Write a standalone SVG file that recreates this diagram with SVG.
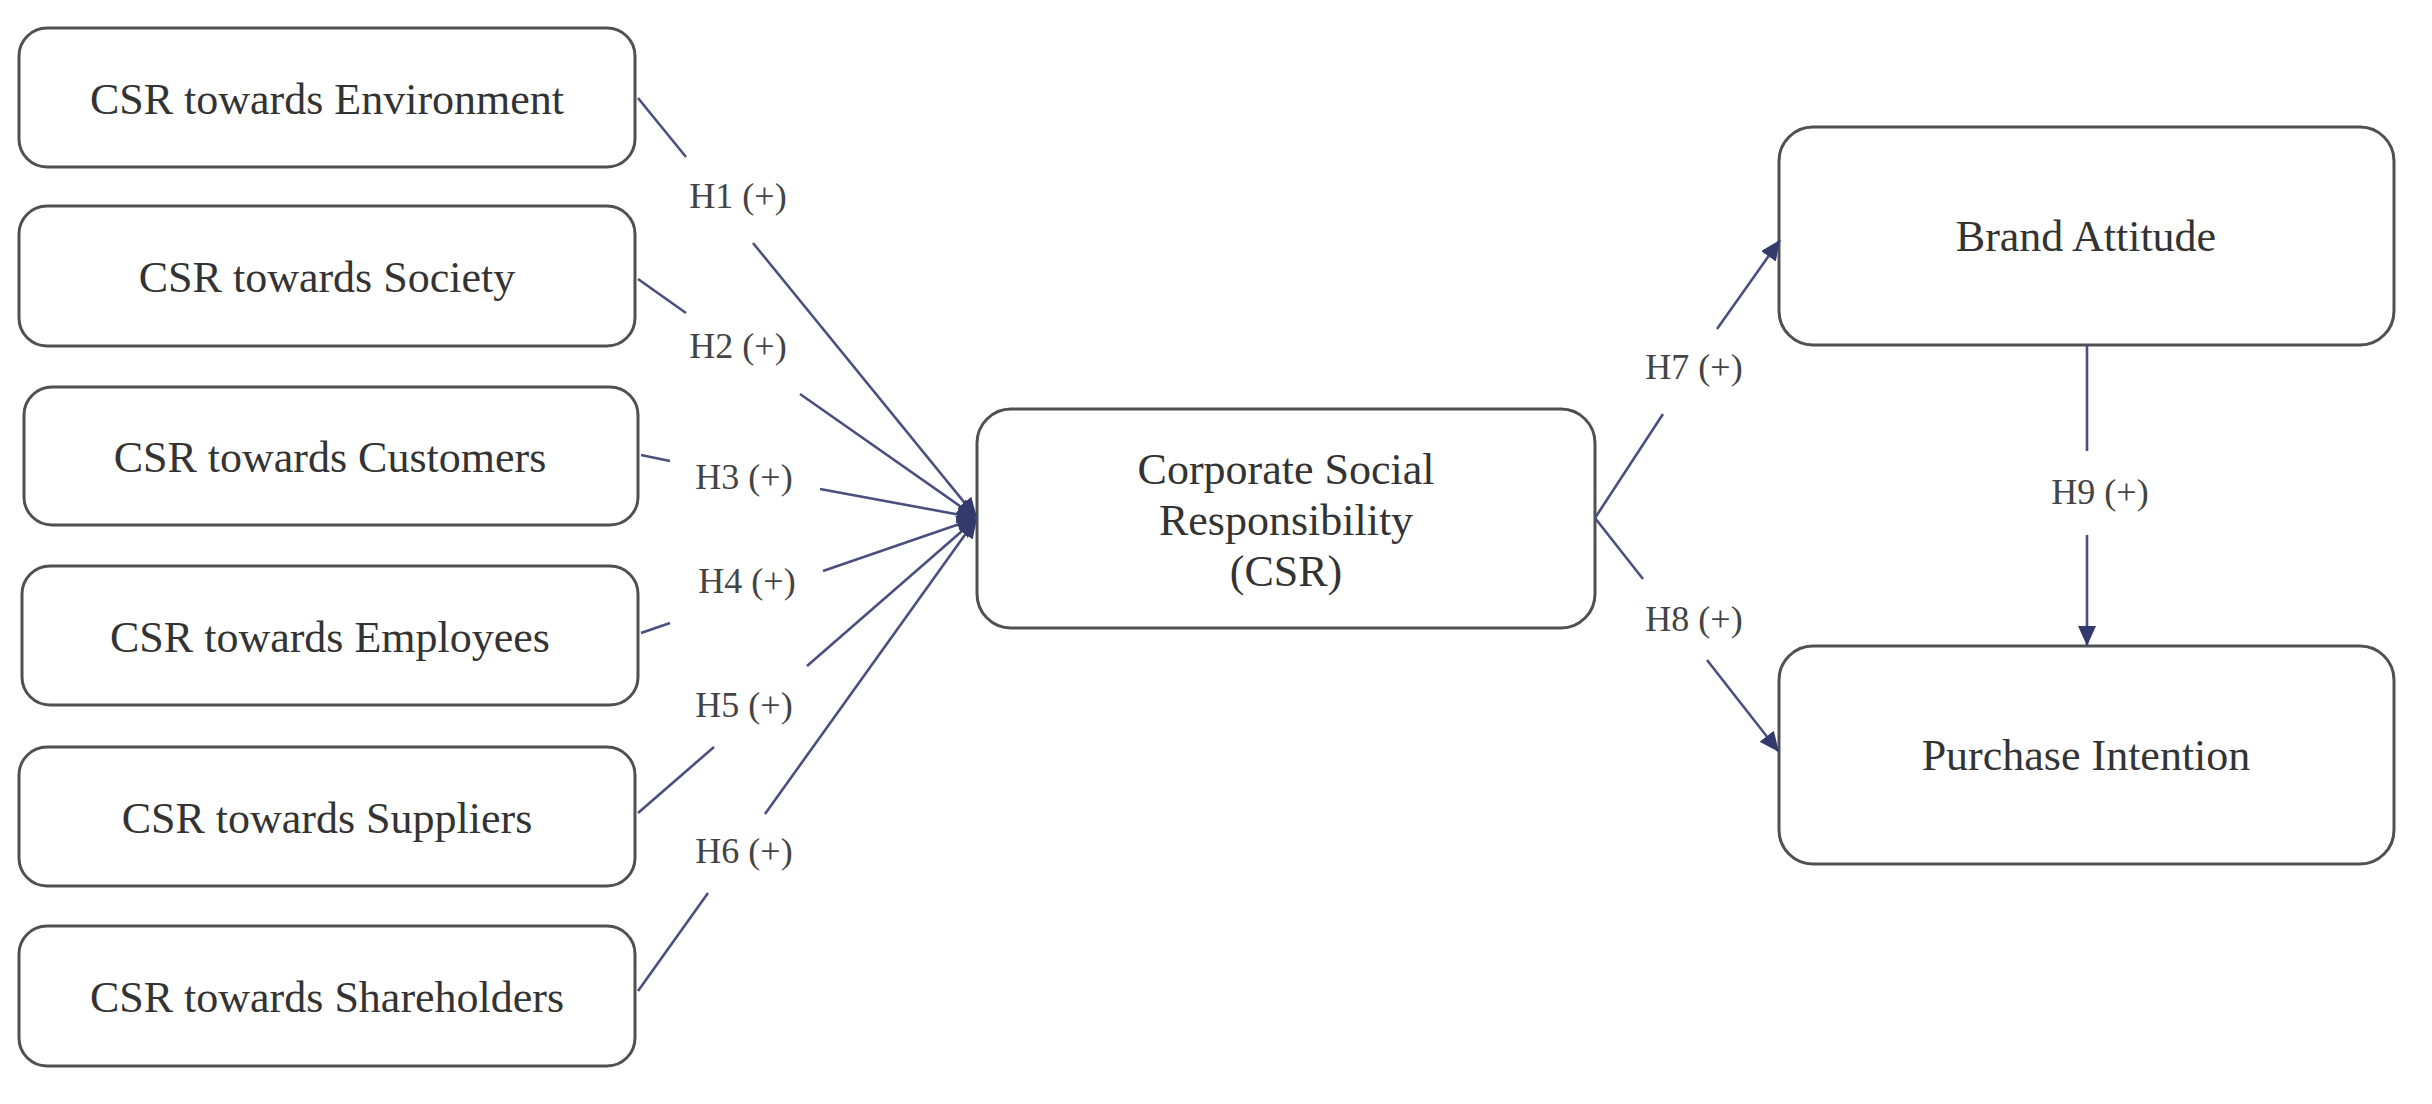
<svg xmlns="http://www.w3.org/2000/svg" width="2432" height="1104" viewBox="0 0 2432 1104">
<style>
.box{fill:#fff;stroke:#505050;stroke-width:3}
.t{font-family:"Liberation Serif","Times New Roman",serif;font-size:44px;fill:#333;text-anchor:middle}
.lbl{font-family:"Liberation Serif","Times New Roman",serif;font-size:36px;fill:#444;text-anchor:middle}
.c{stroke:#4a4f80;stroke-width:2.6;fill:none}
</style>
<defs>
<marker id="ah" markerUnits="userSpaceOnUse" markerWidth="22" markerHeight="18" refX="20" refY="9" orient="auto">
<path d="M0,0 L20,9 L0,18 Z" fill="#343a6c"/>
</marker>
</defs>
<rect width="2432" height="1104" fill="#fff"/>
<g id="n1"><rect class="box" x="19" y="28" width="616" height="139" rx="28"/><text class="t" x="327" y="114">CSR towards Environment</text></g>
<g id="n2"><rect class="box" x="19" y="206" width="616" height="140" rx="28"/><text class="t" x="327" y="292">CSR towards Society</text></g>
<g id="n3"><rect class="box" x="24" y="387" width="614" height="138" rx="28"/><text class="t" x="330" y="472">CSR towards Customers</text></g>
<g id="n4"><rect class="box" x="22" y="566" width="616" height="139" rx="28"/><text class="t" x="330" y="652">CSR towards Employees</text></g>
<g id="n5"><rect class="box" x="19" y="747" width="616" height="139" rx="28"/><text class="t" x="327" y="833">CSR towards Suppliers</text></g>
<g id="n6"><rect class="box" x="19" y="926" width="616" height="140" rx="28"/><text class="t" x="327" y="1012">CSR towards Shareholders</text></g>
<g id="csr"><rect class="box" x="977" y="409" width="618" height="219" rx="34"/>
<text class="t" x="1286" y="484">Corporate Social</text>
<text class="t" x="1286" y="535">Responsibility</text>
<text class="t" x="1286" y="586">(CSR)</text></g>
<g id="brand"><rect class="box" x="1779" y="127" width="615" height="218" rx="34"/><text class="t" x="2086" y="251">Brand Attitude</text></g>
<g id="purchase"><rect class="box" x="1779" y="646" width="615" height="218" rx="34"/><text class="t" x="2086" y="770">Purchase Intention</text></g>
<g id="connectors">
<line class="c" x1="638" y1="98" x2="686" y2="157"/><line class="c" x1="753" y1="243" x2="977" y2="518" marker-end="url(#ah)"/>
<line class="c" x1="638" y1="279" x2="686" y2="313"/><line class="c" x1="800" y1="394" x2="977" y2="518" marker-end="url(#ah)"/>
<line class="c" x1="641" y1="455" x2="670" y2="461"/><line class="c" x1="820" y1="489" x2="977" y2="518" marker-end="url(#ah)"/>
<line class="c" x1="641" y1="633" x2="670" y2="623"/><line class="c" x1="823" y1="571" x2="977" y2="518" marker-end="url(#ah)"/>
<line class="c" x1="638" y1="813" x2="714" y2="747"/><line class="c" x1="807" y1="666" x2="977" y2="518" marker-end="url(#ah)"/>
<line class="c" x1="638" y1="991" x2="708" y2="893"/><line class="c" x1="765" y1="814" x2="977" y2="518" marker-end="url(#ah)"/>
<line class="c" x1="1595" y1="518" x2="1663" y2="414"/><line class="c" x1="1717" y1="329" x2="1780" y2="240" marker-end="url(#ah)"/>
<line class="c" x1="1595" y1="518" x2="1643" y2="579"/><line class="c" x1="1707" y1="660" x2="1779" y2="752" marker-end="url(#ah)"/>
<line class="c" x1="2087" y1="345" x2="2087" y2="451"/><line class="c" x1="2087" y1="535" x2="2087" y2="646" marker-end="url(#ah)"/>
<text class="lbl" x="738" y="208">H1 (+)</text>
<text class="lbl" x="738" y="358">H2 (+)</text>
<text class="lbl" x="744" y="489">H3 (+)</text>
<text class="lbl" x="747" y="593">H4 (+)</text>
<text class="lbl" x="744" y="717">H5 (+)</text>
<text class="lbl" x="744" y="863">H6 (+)</text>
<text class="lbl" x="1694" y="379">H7 (+)</text>
<text class="lbl" x="1694" y="631">H8 (+)</text>
<text class="lbl" x="2100" y="504">H9 (+)</text>
</g>
</svg>
